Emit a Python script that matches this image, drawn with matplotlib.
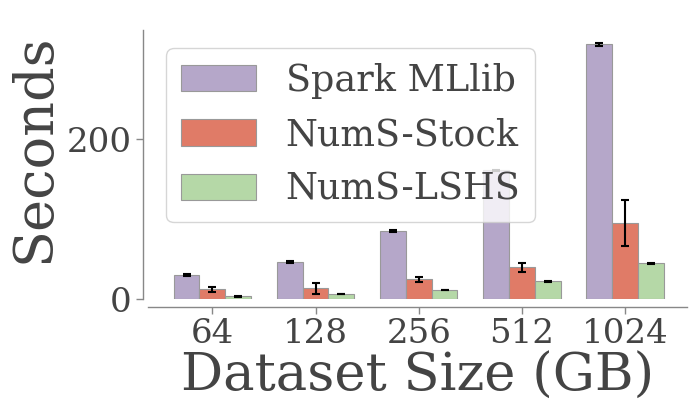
import numpy as np
import matplotlib
matplotlib.use("Agg")
import matplotlib.pyplot as plt

# Datos
tamanos = ["64", "128", "256", "512", "1024"]
sistemas = ["Spark MLlib", "NumS-Stock", "NumS-LSHS"]
spark = [29.7, 46.4, 84.9, 161, 319]
spark_err = [1, 1, 1, 1, 2]
stock = [12.2, 13.4, 24.7, 39.7, 94.9]
stock_err = [2.9, 7.1, 3.3, 5.9, 29]
lshs = [3.4, 6.3, 11.3, 22.2, 44.8]
lshs_err = [0.5, 0.5, 0.5, 0.5, 0.7]

colores = ["#b5a7c9", "#e07b67", "#b5d8a7"]
texto = "#444444"

plt.rcParams["font.family"] = "DejaVu Serif"
plt.rcParams["text.color"] = texto
plt.rcParams["axes.labelcolor"] = texto
plt.rcParams["xtick.color"] = "#888888"
plt.rcParams["ytick.color"] = "#888888"
plt.rcParams["xtick.labelcolor"] = texto
plt.rcParams["ytick.labelcolor"] = texto

fig = plt.figure(figsize=(6.98, 4.18), dpi=100)
ax = fig.add_axes([148 / 698, 1 - 299 / 418, (687 - 148) / 698, (299 - 30) / 418])

x = np.arange(len(tamanos))
ancho = 0.25
series = [(spark, spark_err), (stock, stock_err), (lshs, lshs_err)]
for i, (vals, errs) in enumerate(series):
    ax.bar(x + (i - 1) * ancho, vals, ancho, yerr=errs, color=colores[i],
           edgecolor="#999999", linewidth=0.8, label=sistemas[i],
           error_kw=dict(ecolor="black", capsize=3.1, elinewidth=1.5, capthick=1.5))

ax.set_xlim(-0.624, 4.60)
ax.set_ylim(0, 337)
ax.set_xticks(x)
ax.set_xticklabels(tamanos)
ax.set_yticks([0, 200])
ax.tick_params(axis="both", labelsize=24.5, length=5, width=1)
ax.set_xlabel("Dataset Size (GB)", fontsize=38, labelpad=0)
ax.set_ylabel("Seconds", fontsize=39, labelpad=4)
ax.yaxis.label.set_y(0.56)

# Estilo tipo seaborn despine con offset
for lado in ["top", "right"]:
    ax.spines[lado].set_visible(False)
ax.spines["left"].set_position(("outward", 3.3))
ax.spines["bottom"].set_position(("outward", 5.5))
for lado in ["left", "bottom"]:
    ax.spines[lado].set_color("#888888")
    ax.spines[lado].set_linewidth(1)

leg = ax.legend(loc="upper left", fontsize=26.3, handlelength=2.05, handleheight=0.73,
                framealpha=0.8, edgecolor="#cccccc", borderpad=0.4,
                labelspacing=0.5, handletextpad=0.82, borderaxespad=0.5)
for t in leg.get_texts():
    t.set_color(texto)

fig.savefig("out.png", dpi=100)
